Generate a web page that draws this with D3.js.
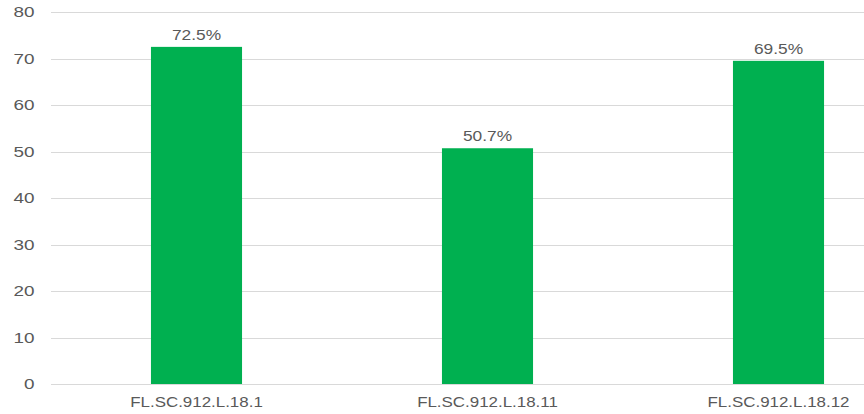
<!DOCTYPE html>
<html><head><meta charset="utf-8">
<script src="https://cdn.jsdelivr.net/npm/d3@7"></script>
<style>body{margin:0;background:#fff}svg{display:block}text{font-family:"Liberation Sans",Arial,sans-serif;fill:#595959}</style>
</head><body><svg id="c" width="864" height="414"></svg>
<script>
const categories = ["FL.SC.912.L.18.1", "FL.SC.912.L.18.11", "FL.SC.912.L.18.12"];
const values = [72.5, 50.7, 69.5];
const yTicks = [0, 10, 20, 30, 40, 50, 60, 70, 80];

(function () {
const svg = d3.select("#c");
const mLeft = 51, mRight = 924, mTop = 12, mBottom = 384;
const x = d3.scaleBand().domain(categories).range([mLeft, mRight]).paddingInner(0.687).paddingOuter(0.3435);
const y = d3.scaleLinear().domain([0, 80]).range([mBottom, mTop]);

svg.append("g").selectAll("line").data(yTicks).join("line")
  .attr("x1", mLeft).attr("x2", 864)
  .attr("y1", d => Math.round(y(d)) + 0.5).attr("y2", d => Math.round(y(d)) + 0.5)
  .attr("stroke", "#d9d9d9").attr("stroke-width", 1);

const yAxis = d3.axisLeft(y).tickValues(yTicks).tickSize(0).tickPadding(0);
svg.append("g").attr("transform", "translate(34.5,0.5)").call(yAxis)
  .call(g => g.select(".domain").remove())
  .selectAll("text").attr("font-size", 14).attr("font-family", null)
  .attr("transform", "scale(1.35,1)").style("fill", "#595959");

svg.append("g").selectAll("rect").data(values).join("rect")
  .attr("x", (d, i) => x(categories[i])).attr("width", x.bandwidth())
  .attr("y", d => y(d)).attr("height", d => y(0) - y(d))
  .attr("fill", "#00b050");

svg.append("g").selectAll("text").data(values).join("text")
  .attr("transform", (d, i) => `translate(${x(categories[i]) + x.bandwidth() / 2},${y(d) - 7}) scale(1.24,1)`)
  .attr("text-anchor", "middle").attr("font-size", 14)
  .text(d => d.toFixed(1) + "%");

const xAxis = d3.axisBottom(x).tickSize(0).tickPadding(0);
svg.append("g").attr("transform", "translate(0,397.5)").call(xAxis)
  .call(g => g.select(".domain").remove())
  .selectAll("text").attr("font-size", 14).attr("font-family", null)
  .attr("transform", "scale(1.21,1)").style("fill", "#595959");
})();
</script></body></html>
